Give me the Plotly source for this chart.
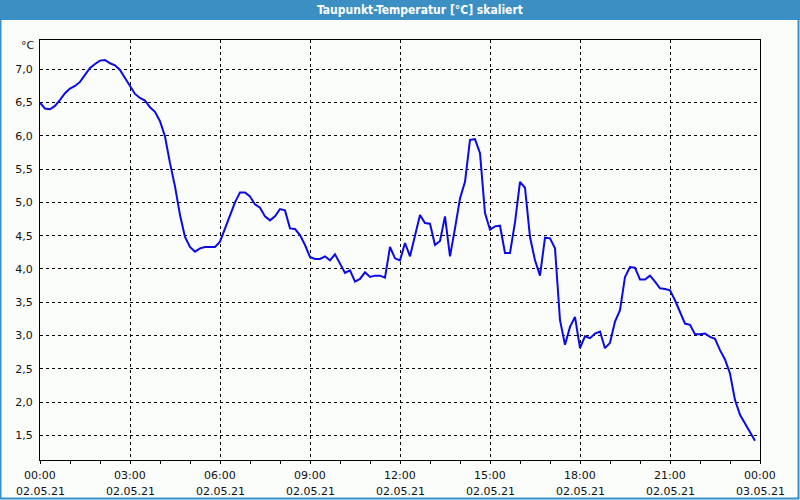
import plotly.graph_objects as go

# ---- data (minutes after 02.05.21 00:00, dew point in °C) ----
minutes = list(range(0, 1440, 10))
dewpoint = [
    6.50, 6.41, 6.40, 6.45, 6.54, 6.64, 6.71, 6.75, 6.81, 6.92,
    7.02, 7.08, 7.13, 7.14, 7.09, 7.06, 6.99, 6.87, 6.74, 6.63,
    6.57, 6.53, 6.43, 6.36, 6.22, 5.99, 5.59, 5.24, 4.81, 4.48,
    4.33, 4.26, 4.31, 4.33, 4.33, 4.33, 4.41, 4.60, 4.80, 5.00,
    5.15, 5.15, 5.09, 4.97, 4.92, 4.79, 4.73, 4.79, 4.90, 4.88,
    4.61, 4.60, 4.51, 4.36, 4.18, 4.15, 4.15, 4.19, 4.13, 4.22,
    4.08, 3.94, 3.98, 3.81, 3.85, 3.95, 3.88, 3.90, 3.90, 3.87,
    4.33, 4.16, 4.13, 4.39, 4.19, 4.50, 4.81, 4.69, 4.68, 4.36,
    4.42, 4.79, 4.19, 4.61, 5.06, 5.31, 5.94, 5.95, 5.74, 4.84,
    4.59, 4.64, 4.65, 4.24, 4.24, 4.70, 5.31, 5.22, 4.48, 4.13,
    3.90, 4.47, 4.46, 4.31, 3.23, 2.86, 3.13, 3.28, 2.81, 2.99,
    2.96, 3.03, 3.06, 2.81, 2.89, 3.21, 3.38, 3.88, 4.03, 4.02,
    3.84, 3.84, 3.90, 3.81, 3.71, 3.70, 3.68, 3.53, 3.36, 3.18,
    3.16, 3.02, 3.02, 3.03, 2.98, 2.95, 2.78, 2.64, 2.43, 2.03,
    1.81, 1.68, 1.55, 1.42,
]
tick_minutes = [0, 180, 360, 540, 720, 900, 1080, 1260, 1440]
time_labels = ["00:00", "03:00", "06:00", "09:00", "12:00", "15:00", "18:00", "21:00", "00:00"]
date_labels = ["02.05.21"] * 8 + ["03.05.21"]
y_range = [1.13, 7.44]
title_text = "Taupunkt-Temperatur [°C] skaliert"
unit_text = "°C"

# ---- layout geometry ----
W, H = 800, 500
ML, MR, MT, MB = 40, 40, 40, 40
PW, PH = W - ML - MR, H - MT - MB
BLUE = "#3b8fc2"
BG = "#fbfdfb"
FONT = "Tahoma, DejaVu Sans, sans-serif"
TXT = "#111111"

fig = go.Figure()
fig.add_trace(go.Scatter(
    x=minutes, y=dewpoint, mode="lines",
    line=dict(color="#0a0ae6", width=2),
    hoverinfo="skip", showlegend=False,
))

grid = dict(showgrid=True, gridcolor="black", gridwidth=1, griddash="3px,3px")

fig.update_layout(
    width=W, height=H,
    margin=dict(l=ML, r=MR, t=MT, b=MB, pad=0, autoexpand=False),
    paper_bgcolor=BG, plot_bgcolor=BG,
    separators=",.",
    font=dict(family=FONT, size=11, color=TXT),
    xaxis=dict(
        range=[0, 1440], tickvals=tick_minutes, ticktext=time_labels,
        showline=True, linecolor="black", linewidth=1, mirror=True,
        ticks="outside", ticklen=3, tickcolor="black",
        minor=dict(dtick=60, tick0=0, ticks="outside", ticklen=3, tickcolor="black", showgrid=False),
        showticklabels=False, zeroline=False, automargin=False,
        **grid,
    ),
    yaxis=dict(
        range=y_range, dtick=0.5, tick0=0, tickformat=".1f",
        showline=True, linecolor="black", linewidth=1, mirror=True,
        ticks="", zeroline=False, ticklabelstandoff=4, automargin=False,
        tickfont=dict(family=FONT, size=11, color=TXT),
        **grid,
    ),
    shapes=[
        # window border
        dict(type="rect", xref="paper", yref="paper",
             x0=-ML / PW + 0.5 / PW, x1=1 + (MR - 1.5) / PW,
             y0=-(MB - 1.5) / PH, y1=1 + MT / PH,
             line=dict(color=BLUE, width=2), fillcolor="rgba(0,0,0,0)", layer="above"),
        # title bar
        dict(type="rect", xref="paper", yref="paper",
             x0=-ML / PW, x1=1 + MR / PW,
             y0=1 + (MT - 20) / PH, y1=1 + MT / PH,
             line=dict(width=0), fillcolor=BLUE, layer="above"),
    ],
)

annotations = [
    dict(text="<b>" + title_text + "</b>", xref="paper", yref="paper",
         x=(420 - ML) / PW, y=1 + (MT - 10) / PH, xanchor="center", yanchor="middle",
         showarrow=False, font=dict(family="DejaVu Sans Condensed, Liberation Sans", size=12, color="white")),
    dict(text=unit_text, xref="paper", yref="paper",
         x=-3 / PW, y=1 - 6 / PH, xanchor="right", yanchor="middle",
         showarrow=False, font=dict(family=FONT, size=11, color=TXT)),
]
# two-line x tick labels (time / date) placed at the axis tick positions
for tm, tl, dl in zip(tick_minutes, time_labels, date_labels):
    annotations.append(dict(text=tl, xref="x", yref="paper", x=tm, y=-15 / PH,
                            xanchor="center", yanchor="middle", showarrow=False,
                            font=dict(family=FONT, size=11, color=TXT)))
    annotations.append(dict(text=dl, xref="x", yref="paper", x=tm, y=-31 / PH,
                            xanchor="center", yanchor="middle", showarrow=False,
                            font=dict(family=FONT, size=11, color=TXT)))
fig.update_layout(annotations=annotations)

fig.write_html(
    "out.html",
    config={"displayModeBar": False},
    post_script="document.body.style.margin='0';document.body.style.background='%s';" % BG,
)
